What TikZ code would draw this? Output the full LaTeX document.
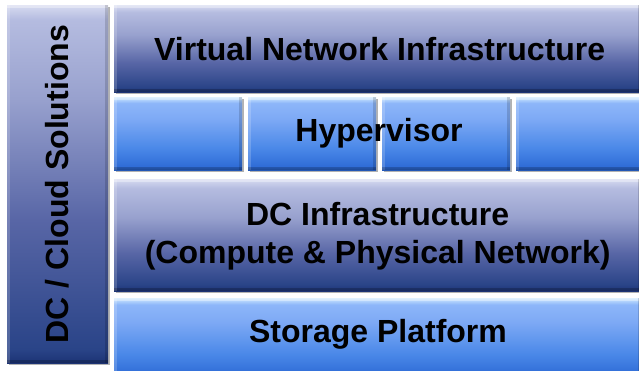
\documentclass[tikz,border=0pt]{standalone}
\usepackage{fontspec}
\setmainfont{Liberation Sans}
\usetikzlibrary{shadows}
\definecolor{nv0}{HTML}{1C3374}
\definecolor{nv1}{HTML}{2A4488}
\definecolor{nv2}{HTML}{5866A6}
\definecolor{nv3}{HTML}{98A1CE}
\definecolor{nv4}{HTML}{B5BCE0}
\definecolor{nv5}{HTML}{D6DAF0}
\definecolor{bl0}{HTML}{2256B4}
\definecolor{bl1}{HTML}{2E6BD6}
\definecolor{bl2}{HTML}{4A88E8}
\definecolor{bl3}{HTML}{7DA9F5}
\definecolor{bl4}{HTML}{8DB6F9}
\definecolor{bl5}{HTML}{CDE8FF}
\pgfdeclareverticalshading{navyshade}{100bp}{color(0bp)=(nv0); color(25bp)=(nv0); color(28bp)=(nv1); color(42bp)=(nv2); color(58bp)=(nv3); color(71bp)=(nv4); color(75bp)=(nv5); color(100bp)=(nv5)}
\pgfdeclareverticalshading{sideshade}{100bp}{color(0bp)=(nv0); color(25bp)=(nv0); color(27bp)=(nv1); color(45bp)=(nv2); color(62bp)=(nv3); color(73bp)=(nv4); color(75bp)=(nv5); color(100bp)=(nv5)}
\pgfdeclareverticalshading{blueshade}{100bp}{color(0bp)=(bl0); color(25bp)=(bl0); color(27bp)=(bl1); color(40bp)=(bl2); color(60bp)=(bl3); color(71bp)=(bl4); color(75bp)=(bl5); color(100bp)=(bl5)}
\tikzset{
  bevel/.style={draw=none, inner sep=0pt, anchor=north west,
    drop shadow={shadow xshift=1.5pt, shadow yshift=-2pt, opacity=0.3, fill=black},
    path picture={
      \fill[white, opacity=0.35] (path picture bounding box.north west) rectangle ([yshift=-3pt]path picture bounding box.north east);
      \fill[white, opacity=0.18] (path picture bounding box.north west) rectangle ([xshift=3pt]path picture bounding box.south west);
      \fill[black, opacity=0.15] (path picture bounding box.north east) rectangle ([xshift=-3pt]path picture bounding box.south east);
      \fill[black, opacity=0.2] (path picture bounding box.south west) rectangle ([yshift=3pt]path picture bounding box.south east);
    }},
  navybox/.style={bevel, shading=navyshade},
  sidebox/.style={bevel, shading=sideshade},
  bluebox/.style={bevel, shading=blueshade},
  lbl/.style={font=\fontsize{32}{38}\selectfont\bfseries, text=black, align=center},
}
\begin{document}
\begin{tikzpicture}[x=1pt,y=-1pt]
\useasboundingbox[fill=white] (0,0) rectangle (639,370);
\node[sidebox, minimum width=101pt, minimum height=358pt] (side) at (7,5) {};
\node[lbl, rotate=90] (sidetxt) at (side.center) {DC / Cloud Solutions};
\node[navybox, minimum width=527pt, minimum height=87pt] (vni) at (114,5) {};
\node[lbl] (vnitxt) at ([xshift=2pt]vni.center) {Virtual Network Infrastructure};
\node[bluebox, minimum width=128pt, minimum height=73pt] (h1) at (114,97) {};
\node[bluebox, minimum width=128pt, minimum height=73pt] (h2) at (248,97) {};
\node[bluebox, minimum width=128pt, minimum height=73pt] (h3) at (382,97) {};
\node[bluebox, minimum width=128pt, minimum height=73pt] (h4) at (516,97) {};
\node[lbl] (hyp) at (379,133) {Hypervisor};
\node[navybox, minimum width=527pt, minimum height=112pt] (dc) at (114,179) {};
\node[lbl] (dctxt) at ([yshift=-1pt]dc.center) {DC Infrastructure\\(Compute \& Physical Network)};
\node[bluebox, minimum width=527pt, minimum height=80pt] (st) at (114,298) {};
\node[lbl] (sttxt) at (378,334) {Storage Platform};
\end{tikzpicture}
\end{document}
